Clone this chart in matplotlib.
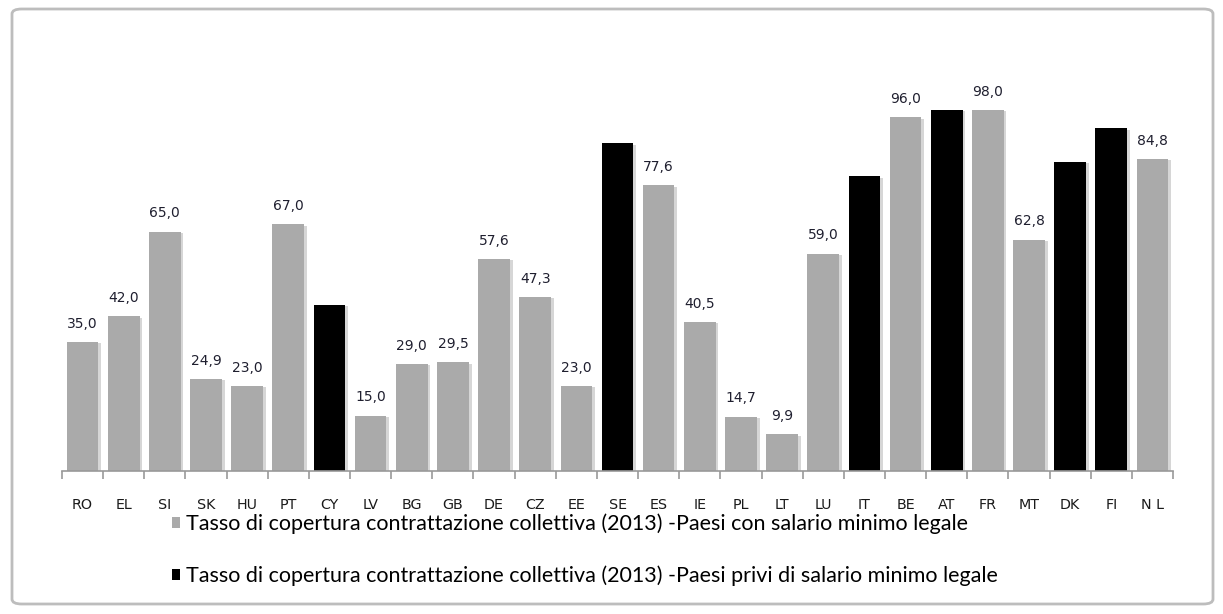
import matplotlib.pyplot as plt
import matplotlib.patheffects as pe
from matplotlib.patches import FancyBboxPatch, Patch
import numpy as np

# country codes, coverage rate (2013), and whether the country has a statutory minimum wage
paesi = ['RO', 'EL', 'SI', 'SK', 'HU', 'PT', 'CY', 'LV', 'BG', 'GB', 'DE', 'CZ', 'EE', 'SE',
         'ES', 'IE', 'PL', 'LT', 'LU', 'IT', 'BE', 'AT', 'FR', 'MT', 'DK', 'FI', 'N L']
copertura = [35.0, 42.0, 65.0, 24.9, 23.0, 67.0, 45.0, 15.0, 29.0, 29.5, 57.6, 47.3, 23.0, 89.0,
             77.6, 40.5, 14.7, 9.9, 59.0, 80.0, 96.0, 98.0, 98.0, 62.8, 84.0, 93.0, 84.8]
salario_minimo = [1, 1, 1, 1, 1, 1, 0, 1, 1, 1, 1, 1, 1, 0,
                  1, 1, 1, 1, 1, 0, 1, 0, 1, 1, 0, 0, 1]

legenda = ['Tasso di copertura contrattazione collettiva (2013) -Paesi con salario minimo legale',
           'Tasso di copertura contrattazione collettiva (2013) -Paesi privi di salario minimo legale']

grigio = '#aaaaaa'
nero = '#000000'

fig = plt.figure(figsize=(12.23, 6.14), dpi=100)
ax = fig.add_axes([62 / 1223, 1 - 470.7 / 614, 1111 / 1223, 368 / 614])

x = np.arange(len(paesi))
colori = [grigio if s else nero for s in salario_minimo]
bars = ax.bar(x, copertura, width=0.77, color=colori, zorder=2)
for b in bars:
    b.set_path_effects([pe.SimplePatchShadow(offset=(2, -1), shadow_rgbFace='#d6d6d6', alpha=1),
                        pe.Normal()])

# value labels only on the grey bars
for xi, v, s in zip(x, copertura, salario_minimo):
    if s:
        ax.annotate(f'{v:.1f}'.replace('.', ','), (xi, v), xytext=(0, 8),
                    textcoords='offset points', ha='center', va='bottom',
                    fontsize=10, color='#1f1f2f', annotation_clip=False)

ax.set_xlim(-0.5, len(paesi) - 0.5)
ax.set_ylim(0, 100)
for s in ['top', 'right', 'left']:
    ax.spines[s].set_visible(False)
ax.spines['bottom'].set_color('#999999')
ax.spines['bottom'].set_linewidth(1.2)
ax.set_yticks([])
ax.set_xticks(x)
ax.set_xticklabels(paesi, fontsize=10.3, color='#1a1a1a')
ax.tick_params(axis='x', which='major', length=0, pad=20)
ax.set_xticks(np.arange(-0.5, len(paesi)), minor=True)
ax.tick_params(axis='x', which='minor', length=6, color='#999999', width=1.2, direction='out')

handles = [Patch(facecolor=grigio, edgecolor='none'), Patch(facecolor=nero, edgecolor='none')]
fig.legend(handles, legenda, loc='upper left', bbox_to_anchor=(161 / 1223, 1 - 503 / 614),
           frameon=False, prop={'family': ['Lato', 'DejaVu Sans'], 'size': 15.5},
           handlelength=0.4, handleheight=0.4,
           handletextpad=0.25, labelspacing=1.45, borderpad=0)

fig.patches.append(FancyBboxPatch((12 / 1223, 10 / 614), 1201 / 1223, 595 / 614,
                                  boxstyle='round,pad=0,rounding_size=0.008',
                                  transform=fig.transFigure, facecolor='none',
                                  edgecolor='#bdbdbd', linewidth=2))

fig.savefig('out.png', dpi=100)
